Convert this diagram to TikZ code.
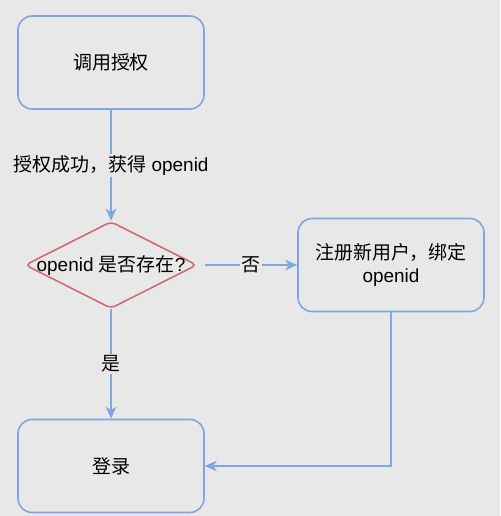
\documentclass[tikz,border=0pt]{standalone}
\usepackage{fontspec}
\setmainfont{Liberation Sans}
\newfontfamily\cjk{Noto Sans CJK SC}
\usetikzlibrary{shapes.geometric,arrows.meta}

\definecolor{bgcol}{RGB}{232,232,232}
\definecolor{flowblue}{RGB}{126,166,224}
\definecolor{flowred}{RGB}{212,104,114}

\begin{document}
\begin{tikzpicture}[x=0.02cm, y=-0.02cm,
    every node/.style={font=\fontsize{10.8}{13}\selectfont},
    stepbox/.style={draw=flowblue, line width=0.9pt, rounded corners=0.28cm,
      fill=bgcol, minimum width=3.72cm, minimum height=1.86cm, align=center},
    decision/.style={diamond, draw=flowred, line width=0.9pt, fill=bgcol,
      rounded corners=0.1cm, minimum width=3.44cm, minimum height=1.74cm, inner sep=0pt},
    flow/.style={draw=flowblue, line width=0.9pt,
      -{Stealth[length=2.4mm, width=2.1mm, inset=0.7mm]}},
    flowlabel/.style={fill=bgcol, inner sep=1pt}]

  \useasboundingbox[fill=bgcol] (0,0) rectangle (500,516);

  \node[stepbox] (auth) at (111,62.5) {\cjk 调用授权};

  \node[decision, label=center:{openid {\cjk 是否存在}?}] (check) at (111,265) {};

  \node[stepbox] (reg) at (391,265) {{\cjk 注册新用户，绑定}\\openid};

  \node[stepbox] (login) at (111,466) {\cjk 登录};

  \draw[flow] (auth) -- node[flowlabel] (authtxt) {{\cjk 授权成功，获得} openid} (check);

  \draw[flow] (check.east) ++(7,0) coordinate (noout) (noout) -- node[flowlabel] (notxt) {\cjk 否} (reg);

  \draw[flow] (check) -- node[flowlabel] (yestxt) {\cjk 是} (login);

  \draw[flow] (reg.south) |- (login.east);
\end{tikzpicture}
\end{document}
